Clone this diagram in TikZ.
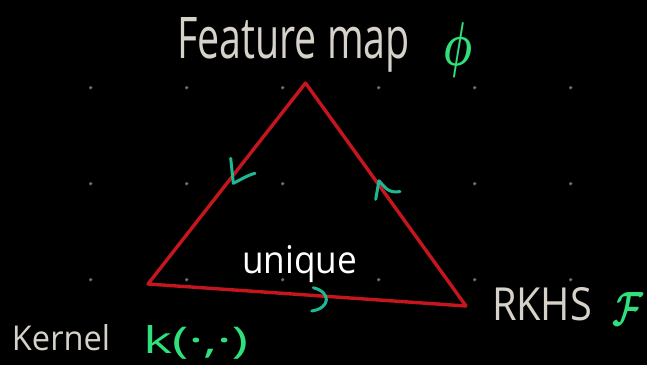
\documentclass[tikz,border=0pt]{standalone}
\usepackage{fontspec}
\setmainfont{Open Sans}
\usepackage{graphicx}
\definecolor{bg}{HTML}{000000}
\definecolor{edgered}{HTML}{C4161C}
\definecolor{dotgray}{HTML}{6E6E6E}
\definecolor{chalk}{HTML}{D6D2CA}
\definecolor{mathgreen}{HTML}{2FE07C}
\definecolor{markteal}{HTML}{1DB894}
\tikzset{
  lbl/.style={inner sep=0pt, outer sep=0pt, anchor=base west},
  lblnw/.style={inner sep=0pt, outer sep=0pt, anchor=north west},
  edge/.style={draw=edgered, line width=3.4pt, line join=round, line cap=round},
  dirmark/.style={draw=markteal, line width=3pt, line cap=round, line join=round},
  griddot/.style={fill=dotgray}
}
\begin{document}
\begin{tikzpicture}[x=1pt,y=-1pt]
\fill[bg] (0,0) rectangle (647,365);
\useasboundingbox (0,0) rectangle (647,365);
% dot grid
\foreach \i in {0,...,5}{
  \foreach \j in {0,1,2}{
    \fill[griddot] (90.7+96*\i,87.7+96*\j) circle (1.8pt);
  }
}
% triangle
\coordinate (top) at (305.5,83);
\coordinate (left) at (148,284);
\coordinate (right) at (466,306);
\draw[edge] (top) -- (left) -- (right) -- cycle;
% direction marks
\draw[dirmark] (230.7,158.3) .. controls (231.5,170) .. (233.3,183.3) .. controls (240,180) and (248,175) .. (255,173.3);
\draw[dirmark] (375.7,199.3) .. controls (377,190) .. (379,180.7) .. controls (384,186) and (388,194) .. (400,191.5);
\draw[dirmark] (313.3,287.7) .. controls (331,292) and (331,308) .. (311.7,311);
% labels
\node[lbl, text=chalk] (feat) at (177,58) {\resizebox{233pt}{41pt}{Feature map}};
\node[lblnw, text=mathgreen] (phi) at (443,23) {\resizebox*{29pt}{55pt}{\boldmath$\phi$}};
\node[lbl, text=white] (uniq) at (242,273) {\resizebox{115pt}{28pt}{unique}};
\node[lbl, text=chalk] (kern) at (12,350) {\resizebox{98pt}{26pt}{Kernel}};
\node[lbl, text=mathgreen] (kfun) at (143,353) {\resizebox{105pt}{28pt}{k(·,·)}};
\node[lbl, text=chalk] (rkhs) at (492,320) {\resizebox{100pt}{33pt}{RKHS}};
\node[lblnw, text=mathgreen] (calF) at (612,292) {\resizebox*{31pt}{33pt}{\boldmath$\mathcal{F}$}};
\end{tikzpicture}
\end{document}
